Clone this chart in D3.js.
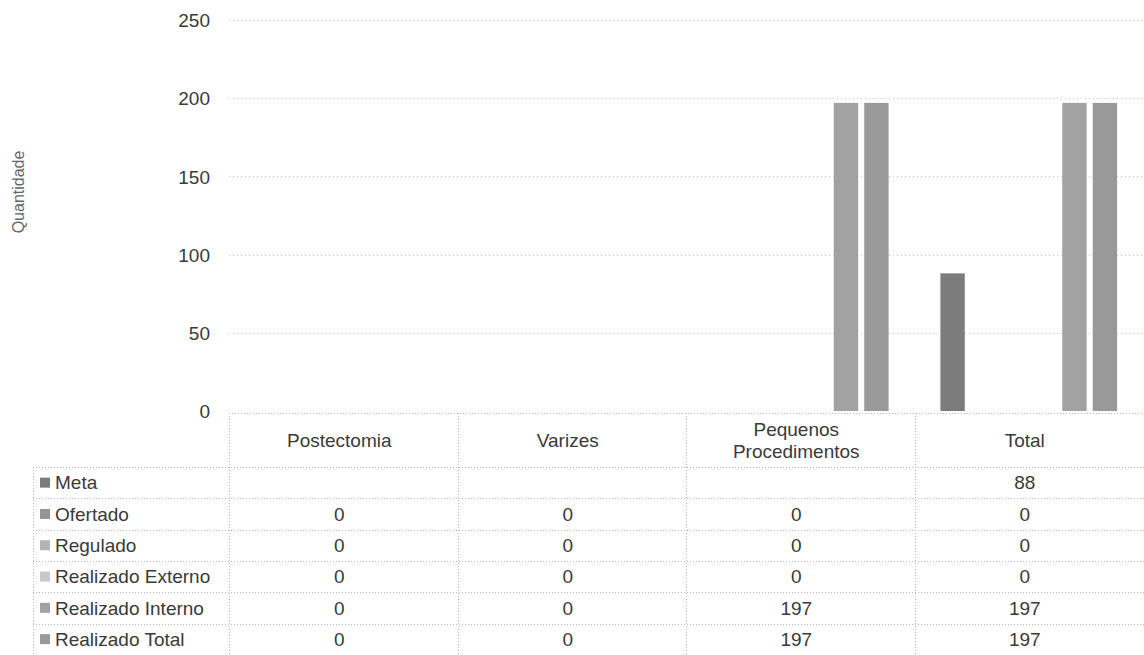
<!DOCTYPE html>
<html><head><meta charset="utf-8">
<script src="https://cdn.jsdelivr.net/npm/d3@7"></script>
<style>
html,body{margin:0;padding:0;background:#fff;}
svg{display:block;font-family:"Liberation Sans",Arial,sans-serif;}
</style></head>
<body>
<svg id="chart" width="1144" height="655"></svg>
<script>
const categories = ["Postectomia", "Varizes", "Pequenos Procedimentos", "Total"];
const seriesNames = ["Meta", "Ofertado", "Regulado", "Realizado Externo", "Realizado Interno", "Realizado Total"];
const meta = [null, null, null, 88];
const ofertado = [0, 0, 0, 0];
const regulado = [0, 0, 0, 0];
const realizadoExterno = [0, 0, 0, 0];
const realizadoInterno = [0, 0, 197, 197];
const realizadoTotal = [0, 0, 197, 197];
const yTicks = [0, 50, 100, 150, 200, 250];
const seriesColors = ["#7c7c7c", "#959595", "#b4b4b4", "#c8c8c8", "#a2a2a2", "#999999"];

const seriesValues = [meta, ofertado, regulado, realizadoExterno, realizadoInterno, realizadoTotal];
const svg = d3.select("#chart");

const x0 = d3.scaleBand().domain(categories).range([229, 1143]).paddingInner(0.2).paddingOuter(0.1);
const x1 = d3.scaleBand().domain(seriesNames).range([0, x0.bandwidth()]).paddingInner(0.2).paddingOuter(0.1);
const y = d3.scaleLinear().domain([0, 250]).range([411, 20]);

// gridlines
svg.append("g").selectAll("line").data(yTicks.filter(d => d > 0)).join("line")
  .attr("x1", 229).attr("x2", 1144)
  .attr("y1", d => Math.round(y(d)) + 0.5).attr("y2", d => Math.round(y(d)) + 0.5)
  .attr("stroke", "#c4c4c4").attr("stroke-dasharray", "1,3");

// y axis labels
const yAxis = d3.axisLeft(y).tickValues(yTicks).tickSize(0).tickPadding(0);
const gy = svg.append("g").attr("transform", "translate(210,0)").call(yAxis);
gy.select(".domain").remove();
gy.selectAll("text").attr("font-size", 19).attr("fill", "#3a3a3a")
  .attr("font-family", "'Liberation Sans',Arial,sans-serif").attr("dy", "0.35em");

// y title
svg.append("text").attr("transform", "translate(24,192) rotate(-90)")
  .attr("text-anchor", "middle").attr("font-size", 16).attr("fill", "#666").text("Quantidade");

// bars
const groups = svg.append("g").selectAll("g").data(categories).join("g")
  .attr("transform", d => `translate(${x0(d)},0)`);
groups.selectAll("rect").data((c, ci) => seriesNames.map((s, si) => ({s, si, v: seriesValues[si][ci]})))
  .join("rect")
  .filter(d => d.v != null && d.v > 0)
  .attr("x", d => x1(d.s)).attr("width", x1.bandwidth())
  .attr("y", d => y(d.v)).attr("height", d => y(0) - y(d.v))
  .attr("fill", d => seriesColors[d.si]);

// data table
const tableTop = 413, headerBottom = 467, rowH = 31.3;
const leftX = 33, plotLeft = x0.range()[0], rightX = 1144;
const grid = svg.append("g").attr("stroke", "#b8b8b8").attr("stroke-dasharray", "1,2").attr("fill", "none");
grid.append("line").attr("x1", plotLeft).attr("x2", rightX).attr("y1", tableTop + 0.5).attr("y2", tableTop + 0.5);
d3.range(seriesNames.length + 1).forEach(i => {
  const yy = Math.round(headerBottom + i * rowH) + 0.5;
  grid.append("line").attr("x1", leftX).attr("x2", rightX).attr("y1", yy).attr("y2", yy);
});
grid.append("line").attr("x1", leftX + 0.5).attr("x2", leftX + 0.5).attr("y1", headerBottom).attr("y2", 655);
const colEdges = categories.map(c => x0(c) - x0.step() * x0.paddingInner() / 2);
colEdges.forEach(xx => {
  grid.append("line").attr("x1", Math.round(xx) + 0.5).attr("x2", Math.round(xx) + 0.5).attr("y1", tableTop).attr("y2", 655);
});

// header labels
const header = svg.append("g").attr("font-size", 19).attr("fill", "#3a3a3a").attr("text-anchor", "middle");
categories.forEach(c => {
  const cx = x0(c) + x0.bandwidth() / 2 - 4;
  const words = c === "Pequenos Procedimentos" ? ["Pequenos", "Procedimentos"] : [c];
  const midY = (tableTop + headerBottom) / 2;
  words.forEach((w, i) => {
    header.append("text").attr("x", cx).attr("y", midY + (i - (words.length - 1) / 2) * 22)
      .attr("dy", "0.35em").text(w);
  });
});

// rows
const rows = svg.append("g").attr("font-size", 19).attr("fill", "#3a3a3a");
seriesNames.forEach((s, si) => {
  const cy = headerBottom + (si + 0.5) * rowH;
  rows.append("rect").attr("x", 40).attr("y", cy - 5).attr("width", 10).attr("height", 10).attr("fill", seriesColors[si]);
  rows.append("text").attr("x", 55).attr("y", cy).attr("dy", "0.35em").text(s);
  categories.forEach((c, ci) => {
    const v = seriesValues[si][ci];
    if (v == null) return;
    rows.append("text").attr("x", x0(c) + x0.bandwidth() / 2 - 4).attr("y", cy).attr("dy", "0.35em")
      .attr("text-anchor", "middle").text(v);
  });
});
</script>
</body></html>
